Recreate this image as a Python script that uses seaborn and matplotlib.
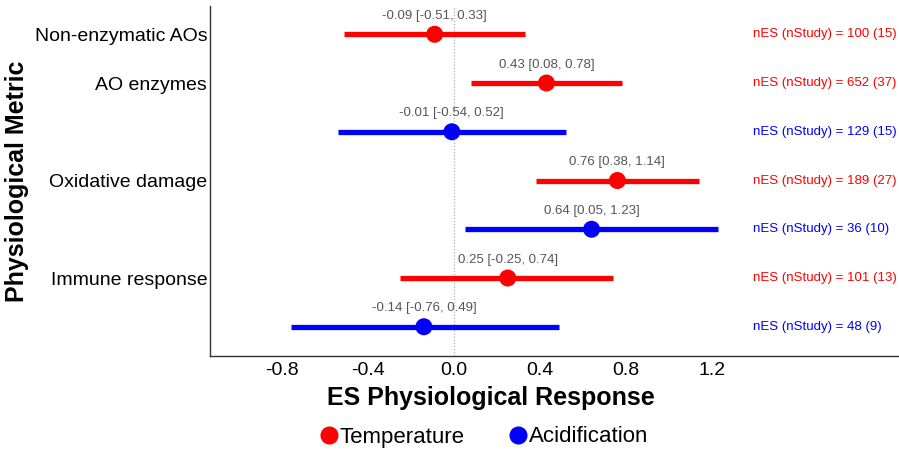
import matplotlib
matplotlib.use("Agg")
import matplotlib.pyplot as plt
import seaborn as sns
import pandas as pd
from matplotlib.lines import Line2D

# ---- data ----
rows = [1, 2, 3, 4, 5, 6, 7]
stressor = ["Temperature", "Temperature", "Acidification", "Temperature",
            "Acidification", "Temperature", "Acidification"]
es = [-0.09, 0.43, -0.01, 0.76, 0.64, 0.25, -0.14]
ci_low = [-0.51, 0.08, -0.54, 0.38, 0.05, -0.25, -0.76]
ci_high = [0.33, 0.78, 0.52, 1.14, 1.23, 0.74, 0.49]
n_es = [100, 652, 129, 189, 36, 101, 48]
n_study = [15, 37, 15, 27, 10, 13, 9]
metric_labels = ["Non-enzymatic AOs", "AO enzymes", "Oxidative damage", "Immune response"]
metric_rows = [1, 2, 4, 6]
xticks = [-0.8, -0.4, 0.0, 0.4, 0.8, 1.2]

palette = {"Temperature": "#FF0000", "Acidification": "#0000FF"}

df = pd.DataFrame({"row": rows, "stressor": stressor, "es": es,
                   "lo": ci_low, "hi": ci_high, "nes": n_es, "nst": n_study})

sns.set_style("white")
plt.rcParams["font.family"] = ["Liberation Sans", "DejaVu Sans"]

fig = plt.figure(figsize=(8.99, 4.55), dpi=100)
ax = fig.add_axes([210 / 899, 1 - 356 / 455, (899 - 210) / 899, (356 - 6) / 455])

ax.axvline(0, color="#b0b0b0", lw=0.9, ls=(0, (1, 1.5)), zorder=0)

for _, r in df.iterrows():
    ax.hlines(r["row"], r["lo"], r["hi"], color=palette[r["stressor"]], lw=3.8, zorder=2)

sns.scatterplot(data=df, x="es", y="row", hue="stressor", palette=palette,
                s=150, edgecolor="none", ax=ax, zorder=3, legend=False)

for _, r in df.iterrows():
    ax.annotate(f"{r['es']:.2f} [{r['lo']:.2f}, {r['hi']:.2f}]",
                (r["es"], r["row"]), xytext=(0, 9), textcoords="offset points",
                ha="center", va="bottom", fontsize=9.5, color="#555555")
    ax.text(1.39, r["row"], f"nES (nStudy) = {r['nes']} ({r['nst']})",
            ha="left", va="center", fontsize=9.5, color=palette[r["stressor"]])

ax.set_xlim(-1.135, 2.07)
ax.set_ylim(7.6, 0.42)
ax.set_xticks(xticks)
ax.set_xticklabels([f"{t:.1f}" for t in xticks], fontsize=14, color="black")
ax.set_yticks(metric_rows)
ax.set_yticklabels(metric_labels, fontsize=14, color="black")
ax.tick_params(axis="x", length=0, pad=4)
ax.tick_params(axis="y", length=0, pad=2)
for s in ["top", "right"]:
    ax.spines[s].set_visible(False)
for s in ["left", "bottom"]:
    ax.spines[s].set_color("#333333")
    ax.spines[s].set_linewidth(1.0)

ax.set_xlabel("ES Physiological Response", fontsize=18, fontweight="bold", color="black")
ax.set_ylabel("Physiological Metric", fontsize=18, fontweight="bold", color="black")
ax.xaxis.set_label_coords((491 - 210) / 689, (356 - 386) / 350)
ax.yaxis.set_label_coords((29 - 210) / 689, 0.5)

handles = [Line2D([], [], marker="o", ls="none", color=palette[k], markersize=12, label=k)
           for k in ["Temperature", "Acidification"]]
fig.legend(handles=handles, loc="center", bbox_to_anchor=(483 / 899, 1 - 437 / 455),
           ncol=2, frameon=False, fontsize=16, handletextpad=0.0, columnspacing=1.9,
           handlelength=1.0, labelcolor="black")

fig.savefig("out.png", dpi=100)
